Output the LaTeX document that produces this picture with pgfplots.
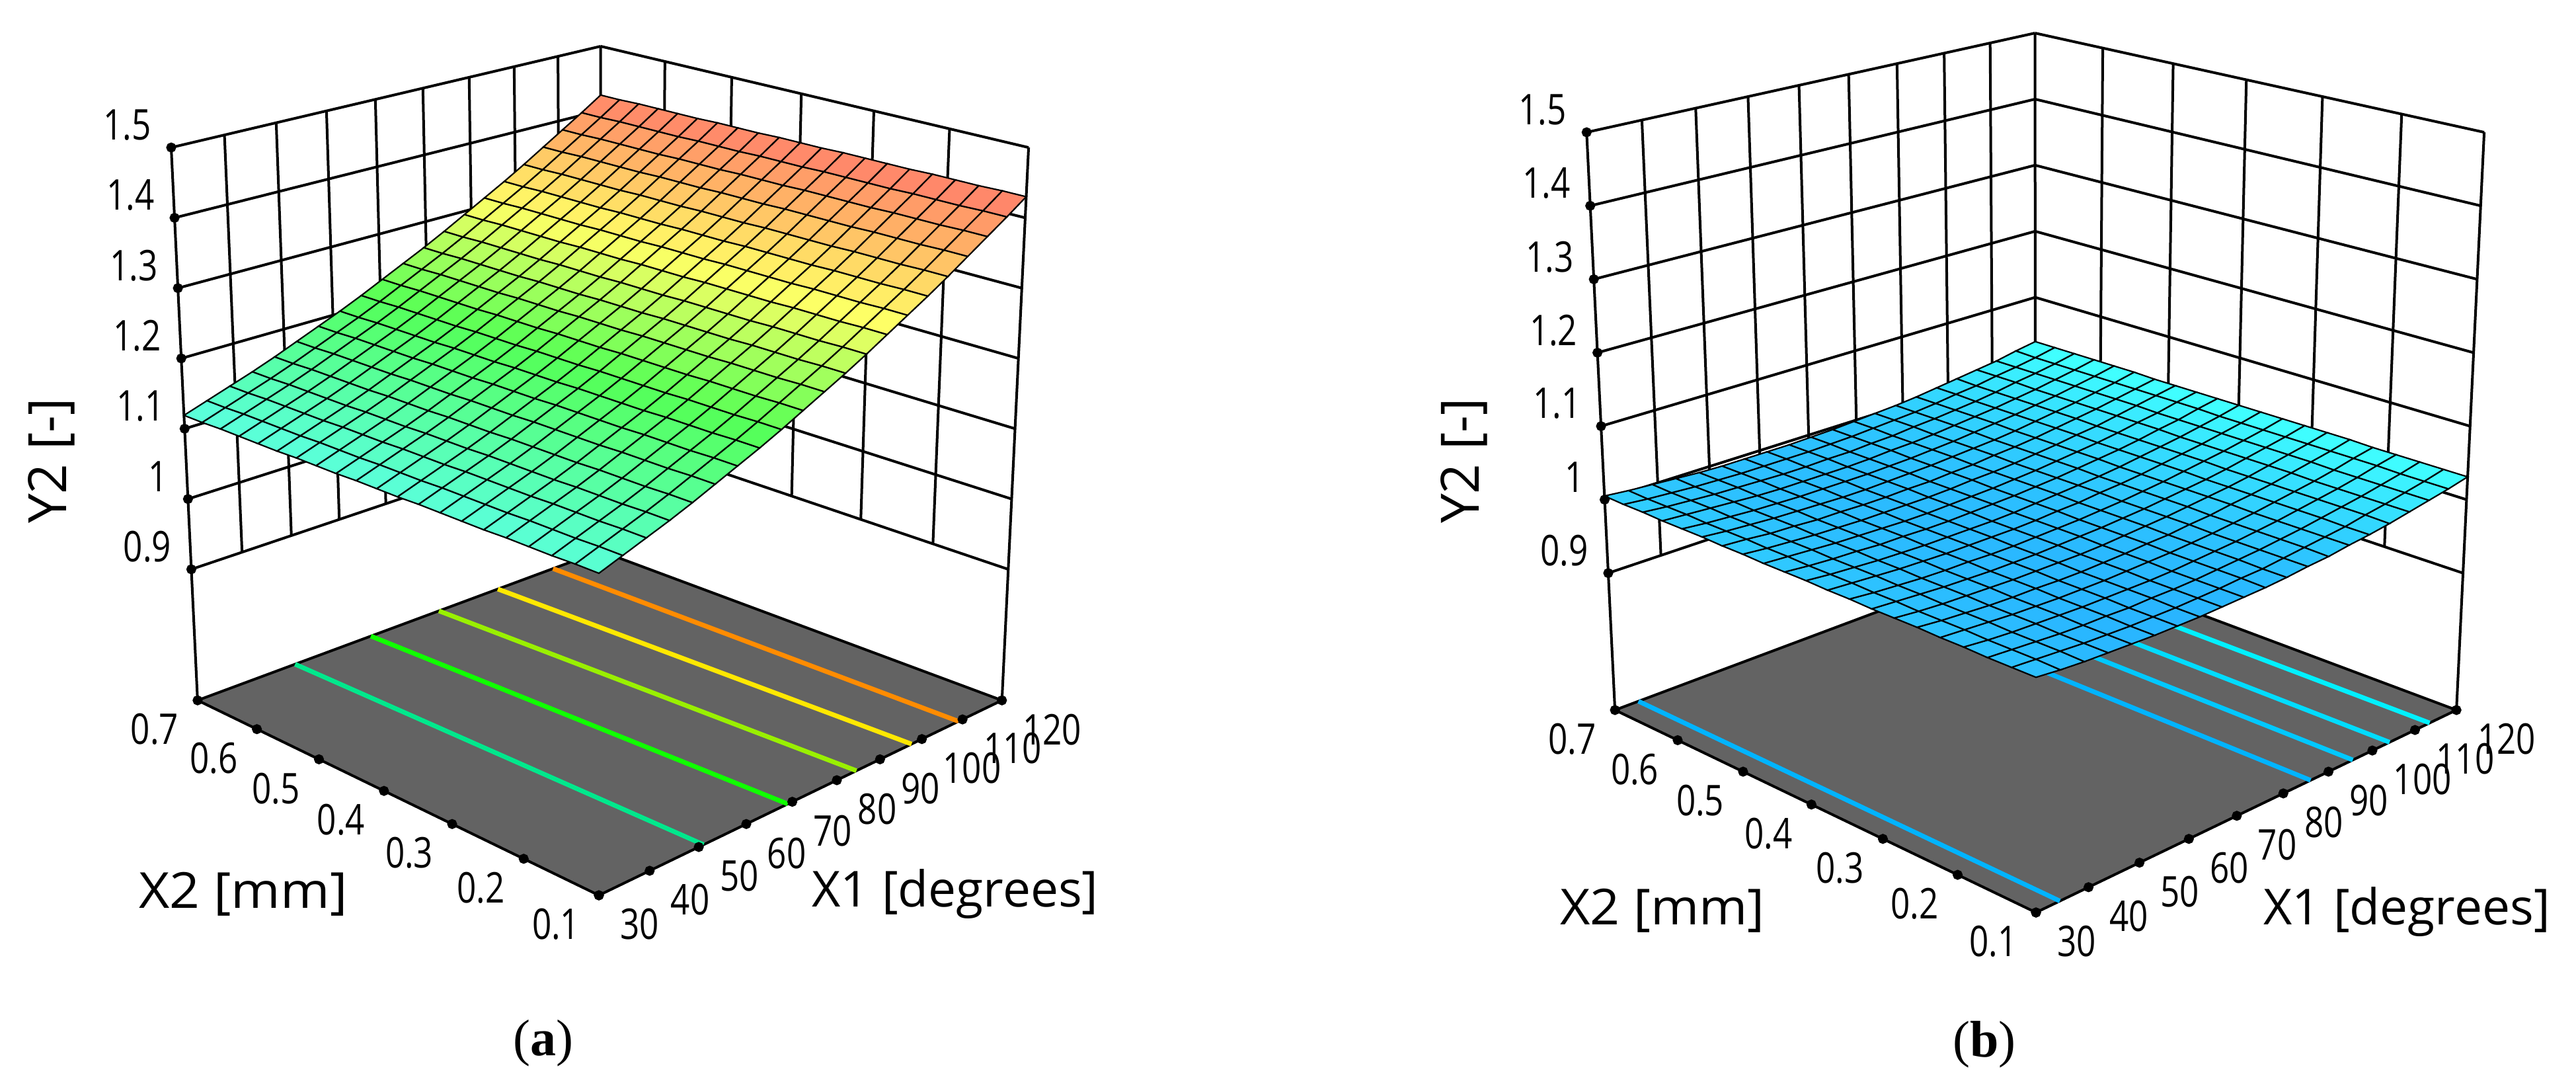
\documentclass[border=0pt]{standalone}
\usepackage{fontspec}
\setmainfont{Open Sans}
\newfontfamily\capfont{Liberation Serif}
\usepackage{pgfplots}
\pgfplotsset{compat=1.18}

% picture is laid out in reference pixels, 1 px = 0.1 pt
% X1, X2, Y2 are taken through the plots' perspective by these functions
\tikzset{declare function={
  uu(\a)=(\a-30)/90;
  vv(\b)=(\b-0.1)/0.6;
  ww(\c)=(\c-0.7136)/0.7864;
  pax(\u,\v,\w)=906+(703*\u-700*\v+\w*(46.5*\u-46*\v))/(1+0.153*(\u+\v));
  pay(\u,\v,\w)=1354+(-340*(\u+\v)+\w*(-931-33*(\u+\v)))/(1+0.153*(\u+\v));
  pbx(\u,\v,\w)=3080+(727*\u-728*\v+\w*(48*\u-49*\v))/(1+0.143*(\u+\v));
  pby(\u,\v,\w)=1380+(-350*(\u+\v)+\w*(-987-11.7*(\u+\v)))/(1+0.143*(\u+\v));
  xa(\a,\b,\c)=pax(uu(\a),vv(\b),ww(\c));
  ya(\a,\b,\c)=pay(uu(\a),vv(\b),ww(\c));
  xb(\a,\b,\c)=pbx(uu(\a),vv(\b),ww(\c));
  yb(\a,\b,\c)=pby(uu(\a),vv(\b),ww(\c));
}}

\definecolor{floorgray}{HTML}{636363}
\definecolor{ca1}{HTML}{00E88C}
\definecolor{ca2}{HTML}{10FF00}
\definecolor{ca3}{HTML}{99F000}
\definecolor{ca4}{HTML}{FFE800}
\definecolor{ca5}{HTML}{FF8C00}
\definecolor{cb1}{HTML}{00B4FF}
\definecolor{cb2}{HTML}{00C8FF}
\definecolor{cb3}{HTML}{00DCFF}
\definecolor{cb4}{HTML}{00F0FF}

\newcommand\ticklab{\fontsize{6.4}{7}\selectfont}
\newcommand\axlab{\fontsize{7.5}{8}\selectfont}

\pgfplotsset{
  table/row sep=\\,
  colormap={rsm}{
    rgb255(0cm)=(40,110,255);
    rgb255(9cm)=(41,182,255);
    rgb255(13cm)=(64,255,255);
    rgb255(22cm)=(90,255,223);
    rgb255(32cm)=(85,255,85);
    rgb255(41cm)=(255,255,102);
    rgb255(48cm)=(255,176,102);
    rgb255(53cm)=(255,125,107);
    rgb255(60cm)=(255,85,85)
  },
  panel/.style={hide axis, scale only axis, clip=false, y dir=reverse,
    ymin=0, ymax=1646, height=164.6pt, anchor=south west},
  rsmsurf/.style={surf, shader=faceted, faceted color=black, line width=0.22pt,
    mesh/rows=21, colormap name=rsm, point meta min=0.9, point meta max=1.5},
  gridln/.style={black, line width=0.4pt, forget plot},
  ticks/.style={only marks, mark=*, mark size=0.55pt, black, forget plot,
    point meta=explicit symbolic, nodes near coords,
    nodes near coords align={anchor=center},
    every node near coord/.append style={font=\ticklab, text=black, xscale=0.8, inner sep=0pt, #1}},
}

\newcommand\seg[6]{\addplot[gridln] table {X1 X2 Y2\\#1 #2 #3\\#4 #5 #6\\};}
% the back walls, their grid and the grey floor
\newcommand\walls{
  \pgfplotsinvokeforeach{40,50,60,70,80,90,100,110}{\seg{##1}{0.7}{0.9}{##1}{0.7}{1.5}}
  \pgfplotsinvokeforeach{0.2,0.3,0.4,0.5,0.6}{\seg{120}{##1}{0.9}{120}{##1}{1.5}}
  \pgfplotsinvokeforeach{0.9,1.0,1.1,1.2,1.3,1.4,1.5}{\seg{30}{0.7}{##1}{120}{0.7}{##1}\seg{120}{0.7}{##1}{120}{0.1}{##1}}
  \seg{30}{0.7}{0.7136}{30}{0.7}{1.5}
  \seg{120}{0.1}{0.7136}{120}{0.1}{1.5}
  \seg{120}{0.7}{0.7136}{120}{0.7}{1.5}
  \addplot[fill=floorgray, draw=black, line width=0.4pt, forget plot] table
    {X1 X2 Y2\\30 0.1 0.7136\\120 0.1 0.7136\\120 0.7 0.7136\\30 0.7 0.7136\\30 0.1 0.7136\\};
}
\newcommand\contour[3]{\addplot[#1, line width=0.7pt, forget plot] table {X1 X2 Y2\\#2 0.1 0.7136\\#3 0.7 0.7136\\};}
\newcommand\allticks{
  \addplot[ticks={anchor=west, xshift=3.8pt, yshift=-4.4pt}] table[meta=L]
    {X1 X2 Y2 L\\30 0.1 0.7136 30\\40 0.1 0.7136 40\\50 0.1 0.7136 50\\60 0.1 0.7136 60\\70 0.1 0.7136 70\\80 0.1 0.7136 80\\90 0.1 0.7136 90\\100 0.1 0.7136 100\\110 0.1 0.7136 110\\120 0.1 0.7136 120\\};
  \addplot[ticks={anchor=east, xshift=-3.4pt, yshift=-4.4pt}] table[meta=L]
    {X1 X2 Y2 L\\30 0.1 0.7136 0.1\\30 0.2 0.7136 0.2\\30 0.3 0.7136 0.3\\30 0.4 0.7136 0.4\\30 0.5 0.7136 0.5\\30 0.6 0.7136 0.6\\30 0.7 0.7136 0.7\\};
  \addplot[ticks={anchor=east, xshift=-3.6pt, yshift=3.4pt}] table[meta=L]
    {X1 X2 Y2 L\\30 0.7 0.9 0.9\\30 0.7 1.0 1\\30 0.7 1.1 1.1\\30 0.7 1.2 1.2\\30 0.7 1.3 1.3\\30 0.7 1.4 1.4\\30 0.7 1.5 1.5\\};
}

\begin{document}
\begin{tikzpicture}
\path[use as bounding box] (0,0) rectangle (389.7pt,164.6pt);

\begin{axis}[panel, at={(0pt,0pt)}, width=195pt, xmin=0, xmax=1950,
  table/x expr={xa(\thisrow{X1},\thisrow{X2},\thisrow{Y2})},
  table/y expr={ya(\thisrow{X1},\thisrow{X2},\thisrow{Y2})}]
  \walls
  \contour{ca1}{51}{49.8}
  \contour{ca2}{69}{66}
  \contour{ca3}{84.5}{81.2}
  \contour{ca4}{97.5}{94.9}
  \contour{ca5}{109}{108.2}
  \allticks
  % Y2 on the 21 x 21 design grid: 21 values for each X1 = 30, 34.5, ... 120, each run X2 = 0.1, 0.13, ... 0.7
  \addplot[rsmsurf, point meta=\thisrow{Y2}] table[
    x expr={xa(30+4.5*floor((\coordindex+0.5)/21),0.1+0.03*mod(\coordindex,21),\thisrow{Y2})},
    y expr={ya(30+4.5*floor((\coordindex+0.5)/21),0.1+0.03*mod(\coordindex,21),\thisrow{Y2})}] {Y2\\
1.125\\1.125\\1.124\\1.124\\1.124\\1.123\\1.123\\1.123\\1.123\\1.122\\1.122\\1.122\\1.121\\1.121\\1.121\\1.120\\1.120\\1.120\\1.120\\1.119\\1.119\\
1.136\\1.136\\1.135\\1.135\\1.135\\1.134\\1.134\\1.134\\1.134\\1.133\\1.133\\1.133\\1.132\\1.132\\1.132\\1.131\\1.131\\1.131\\1.131\\1.130\\1.130\\
1.147\\1.147\\1.146\\1.146\\1.146\\1.145\\1.145\\1.145\\1.145\\1.144\\1.144\\1.144\\1.143\\1.143\\1.143\\1.142\\1.142\\1.142\\1.142\\1.141\\1.141\\
1.158\\1.158\\1.157\\1.157\\1.157\\1.156\\1.156\\1.156\\1.156\\1.155\\1.155\\1.155\\1.154\\1.154\\1.154\\1.153\\1.153\\1.153\\1.153\\1.152\\1.152\\
1.170\\1.170\\1.169\\1.169\\1.169\\1.168\\1.168\\1.168\\1.168\\1.167\\1.167\\1.167\\1.166\\1.166\\1.166\\1.165\\1.165\\1.165\\1.165\\1.164\\1.164\\
1.183\\1.183\\1.182\\1.182\\1.182\\1.181\\1.181\\1.181\\1.181\\1.180\\1.180\\1.180\\1.179\\1.179\\1.179\\1.178\\1.178\\1.178\\1.178\\1.177\\1.177\\
1.196\\1.196\\1.195\\1.195\\1.195\\1.194\\1.194\\1.194\\1.194\\1.193\\1.193\\1.193\\1.192\\1.192\\1.192\\1.191\\1.191\\1.191\\1.191\\1.190\\1.190\\
1.209\\1.209\\1.208\\1.208\\1.208\\1.207\\1.207\\1.207\\1.207\\1.206\\1.206\\1.206\\1.205\\1.205\\1.205\\1.204\\1.204\\1.204\\1.204\\1.203\\1.203\\
1.223\\1.223\\1.222\\1.222\\1.222\\1.221\\1.221\\1.221\\1.221\\1.220\\1.220\\1.220\\1.219\\1.219\\1.219\\1.218\\1.218\\1.218\\1.218\\1.217\\1.217\\
1.238\\1.238\\1.237\\1.237\\1.237\\1.236\\1.236\\1.236\\1.236\\1.235\\1.235\\1.235\\1.234\\1.234\\1.234\\1.233\\1.233\\1.233\\1.233\\1.232\\1.232\\
1.253\\1.253\\1.252\\1.252\\1.252\\1.251\\1.251\\1.251\\1.251\\1.250\\1.250\\1.250\\1.249\\1.249\\1.249\\1.248\\1.248\\1.248\\1.248\\1.247\\1.247\\
1.268\\1.268\\1.267\\1.267\\1.267\\1.266\\1.266\\1.266\\1.266\\1.265\\1.265\\1.265\\1.264\\1.264\\1.264\\1.263\\1.263\\1.263\\1.263\\1.262\\1.262\\
1.284\\1.284\\1.283\\1.283\\1.283\\1.282\\1.282\\1.282\\1.282\\1.281\\1.281\\1.281\\1.280\\1.280\\1.280\\1.279\\1.279\\1.279\\1.279\\1.278\\1.278\\
1.301\\1.301\\1.300\\1.300\\1.300\\1.299\\1.299\\1.299\\1.299\\1.298\\1.298\\1.298\\1.297\\1.297\\1.297\\1.296\\1.296\\1.296\\1.296\\1.295\\1.295\\
1.318\\1.318\\1.317\\1.317\\1.317\\1.316\\1.316\\1.316\\1.316\\1.315\\1.315\\1.315\\1.314\\1.314\\1.314\\1.313\\1.313\\1.313\\1.313\\1.312\\1.312\\
1.335\\1.335\\1.334\\1.334\\1.334\\1.333\\1.333\\1.333\\1.333\\1.332\\1.332\\1.332\\1.331\\1.331\\1.331\\1.330\\1.330\\1.330\\1.330\\1.329\\1.329\\
1.353\\1.353\\1.352\\1.352\\1.352\\1.351\\1.351\\1.351\\1.351\\1.350\\1.350\\1.350\\1.349\\1.349\\1.349\\1.348\\1.348\\1.348\\1.348\\1.347\\1.347\\
1.372\\1.372\\1.371\\1.371\\1.371\\1.370\\1.370\\1.370\\1.370\\1.369\\1.369\\1.369\\1.368\\1.368\\1.368\\1.367\\1.367\\1.367\\1.367\\1.366\\1.366\\
1.391\\1.391\\1.390\\1.390\\1.390\\1.389\\1.389\\1.389\\1.389\\1.388\\1.388\\1.388\\1.387\\1.387\\1.387\\1.386\\1.386\\1.386\\1.386\\1.385\\1.385\\
1.410\\1.410\\1.409\\1.409\\1.409\\1.408\\1.408\\1.408\\1.408\\1.407\\1.407\\1.407\\1.406\\1.406\\1.406\\1.405\\1.405\\1.405\\1.405\\1.404\\1.404\\
1.430\\1.430\\1.429\\1.429\\1.429\\1.428\\1.428\\1.428\\1.428\\1.427\\1.427\\1.427\\1.426\\1.426\\1.426\\1.425\\1.425\\1.425\\1.425\\1.424\\1.424\\
};
  \node[font=\axlab] at (axis cs:1445,1352) {X1 [degrees]};
  \node[font=\axlab, xscale=1.07] at (axis cs:368,1352) {X2 [mm]};
  \node[font=\fontsize{8}{9}\selectfont, rotate=90] at (axis cs:78,697) {Y2 [-]};
  \node[font=\capfont\fontsize{7.8}{9}\selectfont] at (axis cs:822,1578) {(\textbf{a})};
\end{axis}

\begin{axis}[panel, at={(195pt,0pt)}, width=194.7pt, xmin=1950, xmax=3897,
  table/x expr={xb(\thisrow{X1},\thisrow{X2},\thisrow{Y2})},
  table/y expr={yb(\thisrow{X1},\thisrow{X2},\thisrow{Y2})}]
  \walls
  \contour{cb1}{34.5}{34.5}
  \contour{cb1}{86}{86}
  \contour{cb2}{95.5}{95.5}
  \contour{cb3}{104}{104}
  \contour{cb4}{113.5}{113.5}
  \allticks
  \addplot[rsmsurf, point meta=\thisrow{Y2}] table[
    x expr={xb(30+4.5*floor((\coordindex+0.5)/21),0.1+0.03*mod(\coordindex,21),\thisrow{Y2})},
    y expr={yb(30+4.5*floor((\coordindex+0.5)/21),0.1+0.03*mod(\coordindex,21),\thisrow{Y2})}] {Y2\\
.997\\.997\\.997\\.998\\.998\\.999\\.999\\.999\\1.000\\1.000\\1.001\\1.001\\1.001\\1.002\\1.002\\1.003\\1.003\\1.003\\1.004\\1.004\\1.005\\
.994\\.995\\.995\\.995\\.996\\.996\\.996\\.997\\.997\\.998\\.998\\.998\\.999\\.999\\1.000\\1.000\\1.000\\1.001\\1.001\\1.001\\1.002\\
.992\\.993\\.993\\.993\\.994\\.994\\.994\\.995\\.995\\.996\\.996\\.996\\.997\\.997\\.997\\.998\\.998\\.999\\.999\\.999\\1.000\\
.991\\.991\\.991\\.992\\.992\\.992\\.993\\.993\\.993\\.994\\.994\\.995\\.995\\.995\\.996\\.996\\.996\\.997\\.997\\.997\\.998\\
.990\\.990\\.990\\.991\\.991\\.991\\.992\\.992\\.992\\.993\\.993\\.993\\.994\\.994\\.994\\.995\\.995\\.995\\.996\\.996\\.996\\
.989\\.989\\.990\\.990\\.990\\.991\\.991\\.991\\.992\\.992\\.992\\.993\\.993\\.993\\.994\\.994\\.994\\.994\\.995\\.995\\.995\\
.989\\.989\\.989\\.990\\.990\\.990\\.991\\.991\\.991\\.992\\.992\\.992\\.992\\.993\\.993\\.993\\.994\\.994\\.994\\.995\\.995\\
.989\\.989\\.990\\.990\\.990\\.990\\.991\\.991\\.991\\.992\\.992\\.992\\.992\\.993\\.993\\.993\\.994\\.994\\.994\\.995\\.995\\
.990\\.990\\.990\\.990\\.991\\.991\\.991\\.992\\.992\\.992\\.992\\.993\\.993\\.993\\.994\\.994\\.994\\.994\\.995\\.995\\.995\\
.991\\.991\\.991\\.991\\.992\\.992\\.992\\.993\\.993\\.993\\.993\\.994\\.994\\.994\\.994\\.995\\.995\\.995\\.995\\.996\\.996\\
.992\\.993\\.993\\.993\\.993\\.994\\.994\\.994\\.994\\.995\\.995\\.995\\.995\\.996\\.996\\.996\\.996\\.997\\.997\\.997\\.997\\
.994\\.994\\.995\\.995\\.995\\.995\\.996\\.996\\.996\\.996\\.997\\.997\\.997\\.997\\.997\\.998\\.998\\.998\\.998\\.999\\.999\\
.997\\.997\\.997\\.997\\.997\\.998\\.998\\.998\\.998\\.999\\.999\\.999\\.999\\.999\\1.000\\1.000\\1.000\\1.000\\1.001\\1.001\\1.001\\
.999\\1.000\\1.000\\1.000\\1.000\\1.000\\1.001\\1.001\\1.001\\1.001\\1.001\\1.002\\1.002\\1.002\\1.002\\1.002\\1.003\\1.003\\1.003\\1.003\\1.003\\
1.003\\1.003\\1.003\\1.003\\1.003\\1.004\\1.004\\1.004\\1.004\\1.004\\1.004\\1.005\\1.005\\1.005\\1.005\\1.005\\1.006\\1.006\\1.006\\1.006\\1.006\\
1.006\\1.006\\1.007\\1.007\\1.007\\1.007\\1.007\\1.007\\1.008\\1.008\\1.008\\1.008\\1.008\\1.009\\1.009\\1.009\\1.009\\1.009\\1.009\\1.010\\1.010\\
1.010\\1.011\\1.011\\1.011\\1.011\\1.011\\1.011\\1.011\\1.012\\1.012\\1.012\\1.012\\1.012\\1.012\\1.013\\1.013\\1.013\\1.013\\1.013\\1.013\\1.014\\
1.015\\1.015\\1.015\\1.015\\1.015\\1.016\\1.016\\1.016\\1.016\\1.016\\1.016\\1.017\\1.017\\1.017\\1.017\\1.017\\1.017\\1.017\\1.018\\1.018\\1.018\\
1.020\\1.020\\1.020\\1.020\\1.020\\1.021\\1.021\\1.021\\1.021\\1.021\\1.021\\1.021\\1.021\\1.022\\1.022\\1.022\\1.022\\1.022\\1.022\\1.022\\1.022\\
1.025\\1.025\\1.025\\1.026\\1.026\\1.026\\1.026\\1.026\\1.026\\1.026\\1.026\\1.027\\1.027\\1.027\\1.027\\1.027\\1.027\\1.027\\1.027\\1.027\\1.028\\
1.031\\1.031\\1.031\\1.031\\1.031\\1.032\\1.032\\1.032\\1.032\\1.032\\1.032\\1.032\\1.032\\1.032\\1.032\\1.033\\1.033\\1.033\\1.033\\1.033\\1.033\\
};
  \node[font=\axlab] at (axis cs:3641,1379) {X1 [degrees]};
  \node[font=\axlab, xscale=1.05] at (axis cs:2515,1377) {X2 [mm]};
  \node[font=\fontsize{8}{9}\selectfont, rotate=90] at (axis cs:2215,697) {Y2 [-]};
  \node[font=\capfont\fontsize{7.8}{9}\selectfont] at (axis cs:3002,1580) {(\textbf{b})};
\end{axis}
\end{tikzpicture}
\end{document}
